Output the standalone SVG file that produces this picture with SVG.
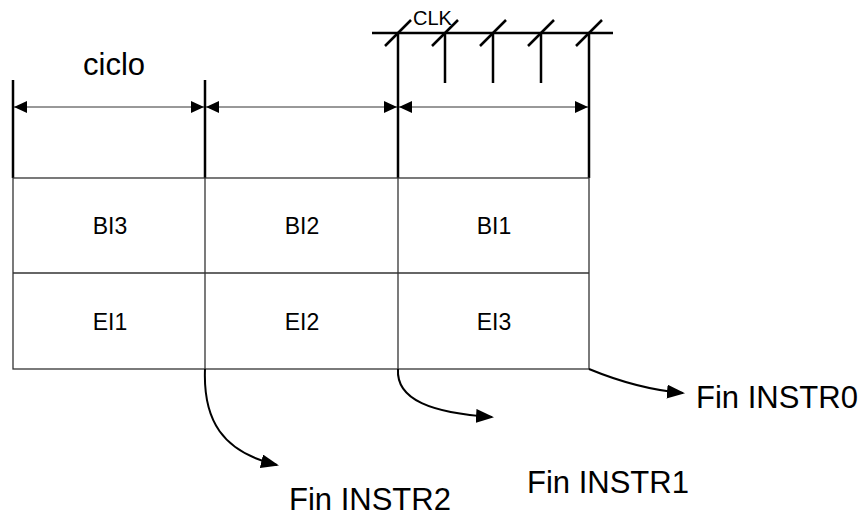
<svg xmlns="http://www.w3.org/2000/svg" width="866" height="518" viewBox="0 0 866 518">
<style>
.thick{stroke:#000;stroke-width:2.5;fill:none}
.grid{stroke:#333;stroke-width:1.3;fill:none}
.dim{stroke:#333;stroke-width:1;fill:none}
.conn{stroke:#000;stroke-width:2;fill:none}
text{font-family:"Liberation Sans",Arial,sans-serif;fill:#000}
.cell{font-size:23px;text-anchor:middle}
.big{font-size:31px}
</style>
<defs>
<marker id="dimArrow" viewBox="0 0 13 12" refX="13" refY="6" markerWidth="13" markerHeight="12" markerUnits="userSpaceOnUse" orient="auto-start-reverse">
<path d="M0,0 L13,6 L0,12 Z" fill="#000"/>
</marker>
<marker id="arrow" viewBox="0 0 18 14" refX="16" refY="7" markerWidth="18" markerHeight="14" markerUnits="userSpaceOnUse" orient="auto">
<path d="M0,0 L18,7 L0,14 Z" fill="#000"/>
</marker>
</defs>
<g id="clock">
<line class="thick" x1="372" y1="33" x2="613" y2="33"/>
<line class="thick" x1="445" y1="33" x2="445" y2="83"/>
<line class="thick" x1="493" y1="33" x2="493" y2="83"/>
<line class="thick" x1="541" y1="33" x2="541" y2="83"/>
<line class="thick" x1="385" y1="46" x2="411" y2="20"/>
<line class="thick" x1="432" y1="46" x2="458" y2="20"/>
<line class="thick" x1="480" y1="46" x2="506" y2="20"/>
<line class="thick" x1="528" y1="46" x2="554" y2="20"/>
<line class="thick" x1="576" y1="46" x2="602" y2="20"/>
<text x="413" y="25" font-size="20">CLK</text>
</g>
<g id="cycles">
<line class="thick" x1="13" y1="80" x2="13" y2="178"/>
<line class="thick" x1="205" y1="80" x2="205" y2="178"/>
<line class="thick" x1="398" y1="33" x2="398" y2="178"/>
<line class="thick" x1="589" y1="33" x2="589" y2="178"/>
<line class="dim" x1="14" y1="107" x2="204" y2="107" marker-start="url(#dimArrow)" marker-end="url(#dimArrow)"/>
<line class="dim" x1="206" y1="107" x2="397" y2="107" marker-start="url(#dimArrow)" marker-end="url(#dimArrow)"/>
<line class="dim" x1="399" y1="107" x2="588" y2="107" marker-start="url(#dimArrow)" marker-end="url(#dimArrow)"/>
<text class="big" x="83" y="75">ciclo</text>
</g>
<g id="table">
<rect class="grid" x="13" y="178" width="576" height="191"/>
<line class="grid" x1="13" y1="273" x2="589" y2="273"/>
<line class="grid" x1="205" y1="178" x2="205" y2="369"/>
<line class="grid" x1="398" y1="178" x2="398" y2="369"/>
</g>
<g id="BI3"><text class="cell" x="110" y="234">BI3</text></g>
<g id="BI2"><text class="cell" x="302" y="234">BI2</text></g>
<g id="BI1"><text class="cell" x="494" y="234">BI1</text></g>
<g id="EI1"><text class="cell" x="110" y="330">EI1</text></g>
<g id="EI2"><text class="cell" x="302" y="330">EI2</text></g>
<g id="EI3"><text class="cell" x="494" y="330">EI3</text></g>
<g id="connectors">
<path class="conn" d="M205,369 C203,420 222,452 277,465" marker-end="url(#arrow)"/>
<path class="conn" d="M398,369 C396,400 432,413 492,417" marker-end="url(#arrow)"/>
<path class="conn" d="M589,369 C618,381 648,390 683,393" marker-end="url(#arrow)"/>
</g>
<g id="finInstr0"><text class="big" x="696" y="408">Fin INSTR0</text></g>
<g id="finInstr1"><text class="big" x="527" y="493">Fin INSTR1</text></g>
<g id="finInstr2"><text class="big" x="289" y="510">Fin INSTR2</text></g>
</svg>
